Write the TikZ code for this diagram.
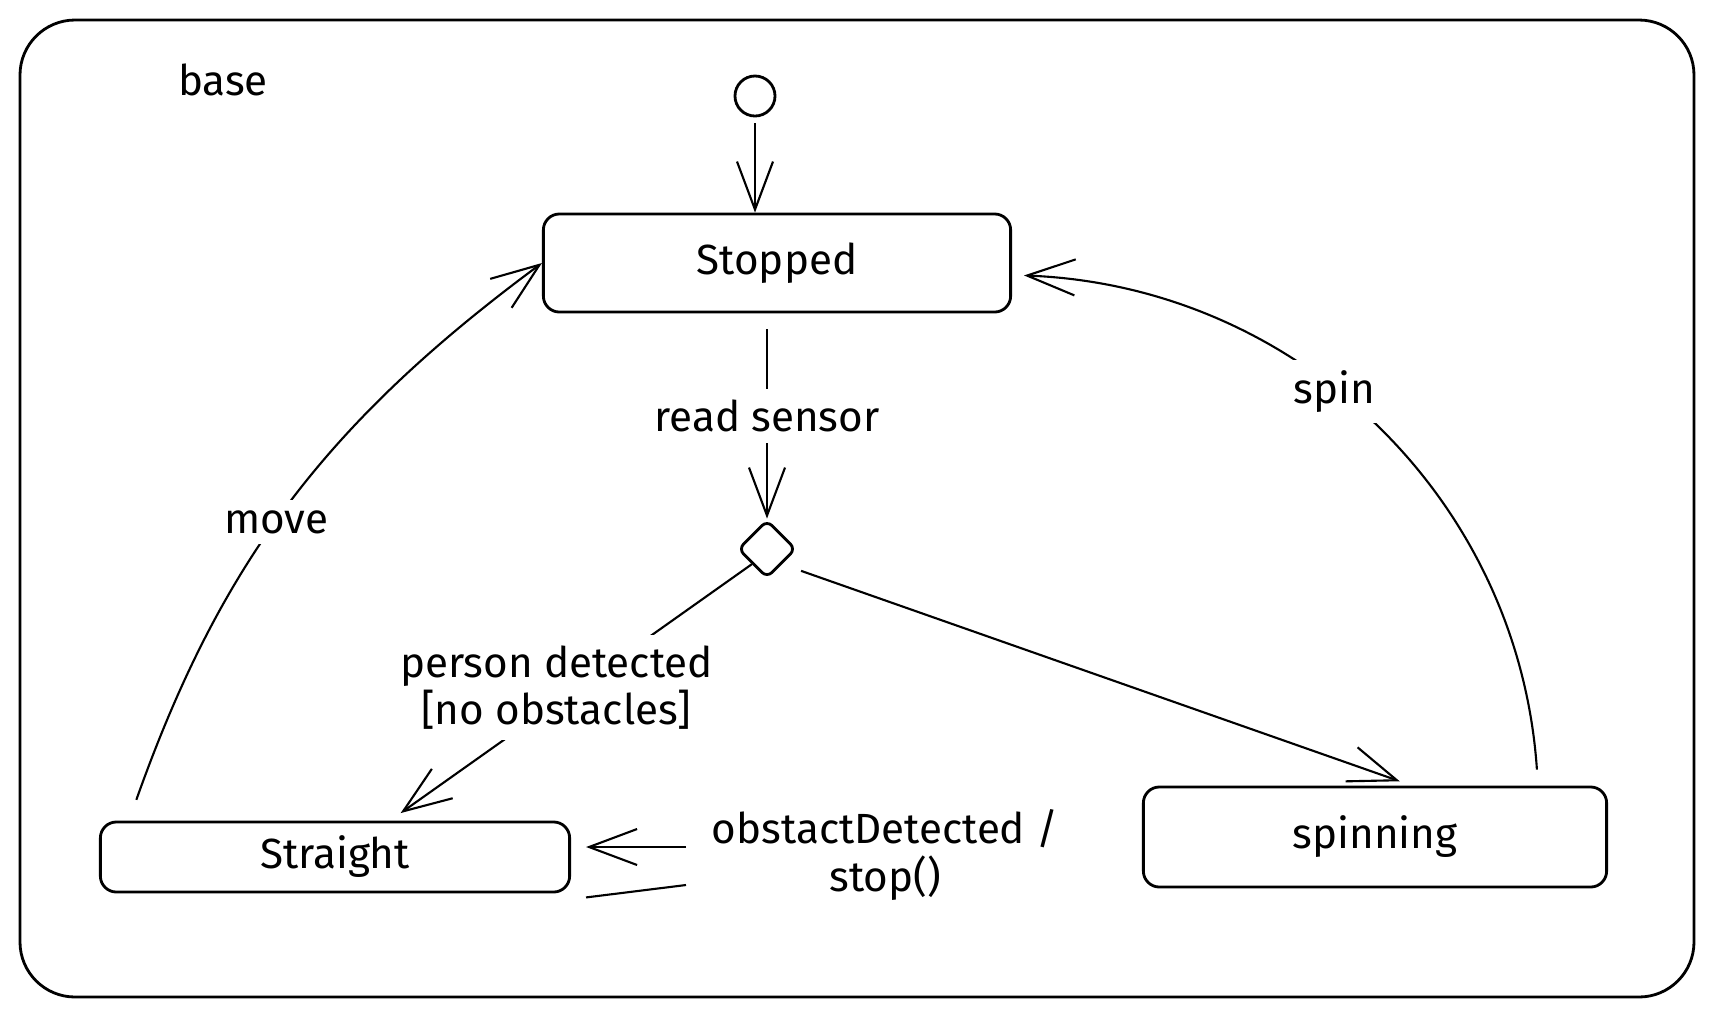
\documentclass[tikz,border=0pt]{standalone}
\usepackage{fontspec}
\setmainfont{Fira Sans}
\usetikzlibrary{arrows.meta,shapes.geometric}

\begin{document}
\begin{tikzpicture}[x=0.01cm,y=-0.01cm,
	font=\fontsize{12}{13.5}\selectfont,
	state/.style={draw,line width=0.8pt,rounded corners=0.16cm,inner sep=0pt},
	trans/.style={line width=0.6pt,-{Straight Barb[length=4.8mm,width=3.6mm,line width=0.6pt]}},
	plain/.style={line width=0.6pt},
	lbl/.style={fill=white,inner sep=3pt,align=center}]
	\useasboundingbox (0,0) rectangle (1714,1014);
	\draw[line width=0.8pt,rounded corners=0.55cm] (20,20) rectangle (1694,997);
	\node (base) at (223,80) {base};
	
	\node (init) at (755,96) [circle,draw,line width=0.8pt,minimum size=0.4cm,inner sep=0pt] {};
	\node (stopped) at (777,263) [state,minimum width=4.67cm,minimum height=0.98cm] {Stopped};
	\node (choice) at (767,549) [diamond,draw,line width=0.8pt,rounded corners=2pt,minimum size=0.58cm,inner sep=0pt] {};
	\node (straight) at (335,857) [state,minimum width=4.69cm,minimum height=0.70cm] {Straight};
	\node (spinning) at (1375,837) [state,minimum width=4.63cm,minimum height=1.00cm] {spinning};
	
	\node (obst) at (885,855) [align=center] {obstactDetected /\\stop()};
	\coordinate (obstin) at (686,847);
	\coordinate (obstout) at (686,885);
	
	\draw[trans,shorten <=0.06cm] (init) -- (init |- stopped.north);
	\draw[trans,shorten <=0.16cm] (stopped.south -| choice.north) -- node[lbl] {read sensor} (choice.north);
	\draw[trans,shorten >=0.13cm] (choice.south west) -- node[lbl,pos=0.54,yshift=0.15cm] {person detected\\{[no obstacles]}} ([xshift=0.55cm]straight.north);
	\draw[trans,shorten <=0.2cm,shorten >=0.13cm] (choice.south east) -- ([xshift=0.37cm]spinning.north);
	\draw[trans,shorten <=0.22cm] ([xshift=0.3cm]straight.north west) to[bend left=17] node[lbl,pos=0.47] {move} (stopped.west);
	\draw[trans,shorten <=0.16cm,shorten >=0.12cm] ([xshift=-0.7cm]spinning.north east) to[bend right=42] node[lbl,pos=0.57] {spin} ([yshift=-0.12cm]stopped.east);
	\draw[trans,shorten >=0.15cm] (obstin) -- (obstin -| straight.east);
	\draw[plain] (obstout) -- ([xshift=0.15cm,yshift=-0.04cm]straight.south east);
\end{tikzpicture}
\end{document}
